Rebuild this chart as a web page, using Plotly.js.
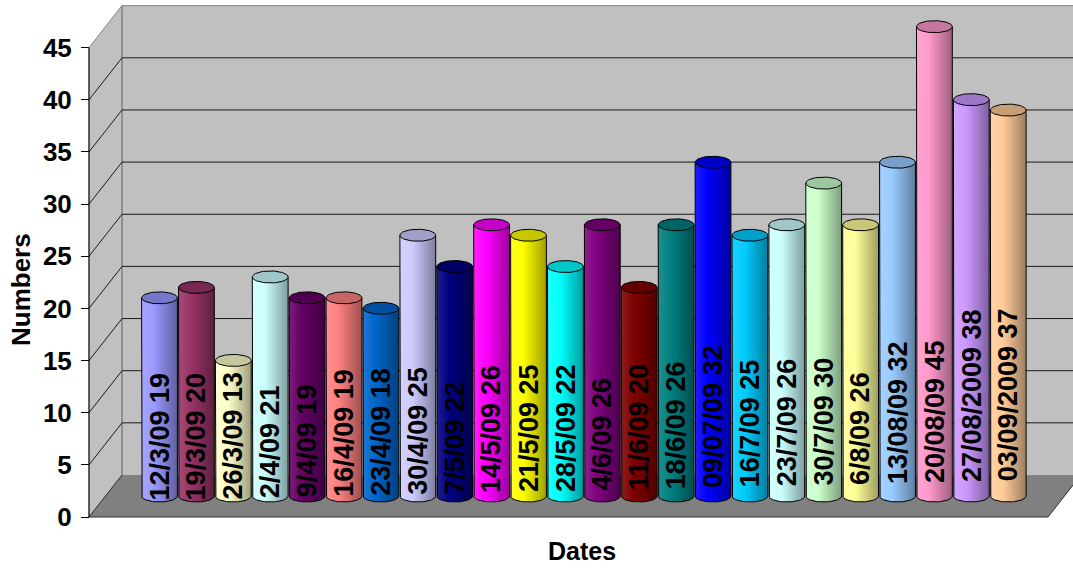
<!DOCTYPE html>
<html>
<head>
<meta charset="utf-8">
<script src="https://cdn.plot.ly/plotly-3.0.1.min.js"></script>
<style>
  html, body { margin: 0; padding: 0; background: #ffffff; }
  #chart { width: 1073px; height: 569px; }
</style>
</head>
<body>
<div id="chart"></div>
<script>
// ---------------- data ----------------
const dates = ['12/3/09', '19/3/09', '26/3/09', '2/4/09', '9/4/09', '16/4/09', '23/4/09', '30/4/09',
  '7/5/09', '14/5/09', '21/5/09', '28/5/09', '4/6/09', '11/6/09', '18/6/09', '09/07/09',
  '16/7/09', '23/7/09', '30/7/09', '6/8/09', '13/08/09', '20/08/09', '27/08/2009', '03/09/2009'];
const values = [19, 20, 13, 21, 19, 19, 18, 25, 22, 26, 25, 22, 26, 20, 26, 32, 25, 26, 30, 26, 32, 45, 38, 37];
const colors = ['#9999FF', '#993366', '#FFFFCC', '#CCFFFF', '#660066', '#FF8080', '#0066CC', '#CCCCFF',
  '#000080', '#FF00FF', '#FFFF00', '#00FFFF', '#800080', '#800000', '#008080', '#0000FF',
  '#00CCFF', '#CCFFFF', '#CCFFCC', '#FFFF99', '#99CCFF', '#FF99CC', '#CC99FF', '#FFCC99'];
const tickValues = [0, 5, 10, 15, 20, 25, 30, 35, 40, 45];
const yTitle = 'Numbers';
const xTitle = 'Dates';

// ---------------- geometry (layout only) ----------------
const W = 1073, H = 569;
const PITCH = 36.9;      // px per category on the mid plane
const X0PX = 159.5;      // px of category 0 on the mid plane
const YS = 10.43;        // px per unit
const Y0PX = 496;        // px of value 0 on the mid plane
const FRONT0PX = 517;    // px of value 0 on the front plane
const DEPTH_PX_X = 33, DEPTH_PX_Y = 42;
const DX = DEPTH_PX_X / PITCH, DY = DEPTH_PX_Y / YS;
const FL = -1.463, FR = 24.526;   // floor extent in category units (mid plane)
const YMAX = 45;
const HALF_W = 0.485;             // cylinder radius in category units
const ELL_B = 6 / YS;             // ellipse half height in value units

const xr = [(0 - X0PX) / PITCH, (W - X0PX) / PITCH];
const yr = [(Y0PX - H) / YS, Y0PX / YS];
const y2r = [(FRONT0PX - H) / YS, FRONT0PX / YS];

function P(i, v, d) { return [i + d * DX, v + d * DY]; }
function path(pts, close) {
  return pts.map((p, k) => (k === 0 ? 'M' : 'L') + p[0].toFixed(4) + ',' + p[1].toFixed(4)).join(' ') + (close ? ' Z' : '');
}
function hexToRgb(h) { const n = parseInt(h.slice(1), 16); return [(n >> 16) & 255, (n >> 8) & 255, n & 255]; }
function shade(h, f) {
  const c = hexToRgb(h).map(x => Math.max(0, Math.min(255, Math.round(x * f))));
  return 'rgb(' + c.join(',') + ')';
}
function lighten(h, t) {
  const c = hexToRgb(h).map(x => Math.round(x + (255 - x) * t));
  return 'rgb(' + c.join(',') + ')';
}

// ---------------- shapes: walls, floor, grid ----------------
const shapes = [];
shapes.push({ type: 'path', xref: 'x', yref: 'y', layer: 'below',
  path: path([P(FL, 0, .5), P(FR + 2, 0, .5), P(FR + 2, YMAX, .5), P(FL, YMAX, .5)], true),
  fillcolor: '#C0C0C0', line: { width: 0 } });
shapes.push({ type: 'path', xref: 'x', yref: 'y', layer: 'below',
  path: path([P(FL, 0, -.5), P(FL, YMAX, -.5), P(FL, YMAX, .5), P(FL, 0, .5)], true),
  fillcolor: '#C0C0C0', line: { width: 1, color: '#808080' } });
shapes.push({ type: 'path', xref: 'x', yref: 'y', layer: 'below',
  path: path([P(FL, 0, .5), P(FL, YMAX, .5), P(FR + 2, YMAX, .5)], false),
  line: { width: 1, color: '#808080' } });
shapes.push({ type: 'path', xref: 'x', yref: 'y', layer: 'below',
  path: path([P(FL, 0, -.5), P(FR, 0, -.5), P(FR, 0, .5), P(FL, 0, .5)], true),
  fillcolor: '#808080', line: { width: 0 } });
shapes.push({ type: 'path', xref: 'x', yref: 'y', layer: 'below',
  path: path([P(FL, 0, .5), P(FL, 0, -.5), P(FR, 0, -.5), P(FR, 0, .5)], false),
  line: { width: 1, color: '#303030' } });
tickValues.forEach(v => {
  if (v === 0 || v === YMAX) return;
  shapes.push({ type: 'path', xref: 'x', yref: 'y', layer: 'below',
    path: path([P(FL, v, .5), P(FR + 2, v, .5)], false), line: { width: 1, color: '#1a1a1a' } });
  shapes.push({ type: 'path', xref: 'x', yref: 'y', layer: 'below',
    path: path([P(FL, v, -.5), P(FL, v, .5)], false), line: { width: 1, color: '#1a1a1a' } });
});
shapes.push({ type: 'path', xref: 'x', yref: 'y', layer: 'above',
  path: path([P(FL, 0, -.5), P(FL, YMAX, -.5)], false), line: { width: 1, color: '#000000' } });

// ---------------- cylinders ----------------
const traces = [];
const N = 40;
values.forEach((v, i) => {
  const c = colors[i];
  const bx = [], by = [];
  bx.push(i - HALF_W); by.push(v);
  bx.push(i - HALF_W); by.push(0);
  for (let k = 1; k < N; k++) {
    const t = Math.PI + Math.PI * k / N;
    bx.push(i + HALF_W * Math.cos(t)); by.push(ELL_B * Math.sin(t));
  }
  bx.push(i + HALF_W); by.push(0);
  bx.push(i + HALF_W); by.push(v);
  bx.push(i - HALF_W); by.push(v);
  traces.push({
    type: 'scatter', mode: 'lines', x: bx, y: by, fill: 'toself',
    fillgradient: { type: 'horizontal', colorscale: [[0, lighten(c, 0.12)], [0.35, c], [1, shade(c, 0.62)]] },
    line: { color: '#000000', width: 1 }, hoverinfo: 'skip', showlegend: false
  });
  const tx = [], ty = [];
  for (let k = 0; k <= 2 * N; k++) {
    const t = 2 * Math.PI * k / (2 * N);
    tx.push(i + HALF_W * Math.cos(t)); ty.push(v + ELL_B * Math.sin(t));
  }
  traces.push({
    type: 'scatter', mode: 'lines', x: tx, y: ty, fill: 'toself',
    fillcolor: shade(c, 0.78),
    line: { color: '#000000', width: 1 }, hoverinfo: 'skip', showlegend: false
  });
});

// ---------------- labels ----------------
const annotations = values.map((v, i) => ({
  x: i, y: 0, xref: 'x', yref: 'y',
  text: dates[i] + ' ' + v,
  textangle: -90, showarrow: false,
  xanchor: 'center', yanchor: 'bottom',
  yshift: -7 + 0.85 * i,
  font: { family: 'Liberation Sans, Arial, sans-serif', size: 27, color: '#000000', weight: 'bold' }
}));
annotations.push({
  xref: 'paper', yref: 'paper', x: 21 / W, y: 1 - 290 / H, text: yTitle,
  textangle: -90, showarrow: false, xanchor: 'center', yanchor: 'middle',
  font: { family: 'Liberation Sans, Arial, sans-serif', size: 26, color: '#000000', weight: 'bold' }
});
annotations.push({
  xref: 'paper', yref: 'paper', x: 582 / W, y: 1 - 551 / H, text: xTitle,
  showarrow: false, xanchor: 'center', yanchor: 'middle',
  font: { family: 'Liberation Sans, Arial, sans-serif', size: 25, color: '#000000', weight: 'bold' }
});

traces.push({ type: 'scatter', x: [null], y: [null], yaxis: 'y2', hoverinfo: 'skip', showlegend: false });

const layout = {
  width: W, height: H,
  margin: { l: 0, r: 0, t: 0, b: 0, pad: 0 },
  paper_bgcolor: '#ffffff', plot_bgcolor: 'rgba(0,0,0,0)',
  showlegend: false,
  xaxis: { range: xr, visible: false, fixedrange: true },
  yaxis: { range: yr, visible: false, fixedrange: true },
  yaxis2: {
    overlaying: 'y', anchor: 'free', position: 89 / W, side: 'left',
    range: y2r, tickmode: 'array', tickvals: tickValues, ticktext: tickValues.map(String),
    ticks: 'outside', ticklen: 8, tickwidth: 1, tickcolor: '#000000',
    showgrid: false, zeroline: false, showline: false, ticklabelstandoff: 4,
    tickfont: { family: 'Liberation Sans, Arial, sans-serif', size: 26, color: '#000000', weight: 'bold' },
    fixedrange: true
  },
  shapes: shapes,
  annotations: annotations
};

Plotly.newPlot('chart', traces, layout, { displayModeBar: false, staticPlot: true });
</script>
</body>
</html>
